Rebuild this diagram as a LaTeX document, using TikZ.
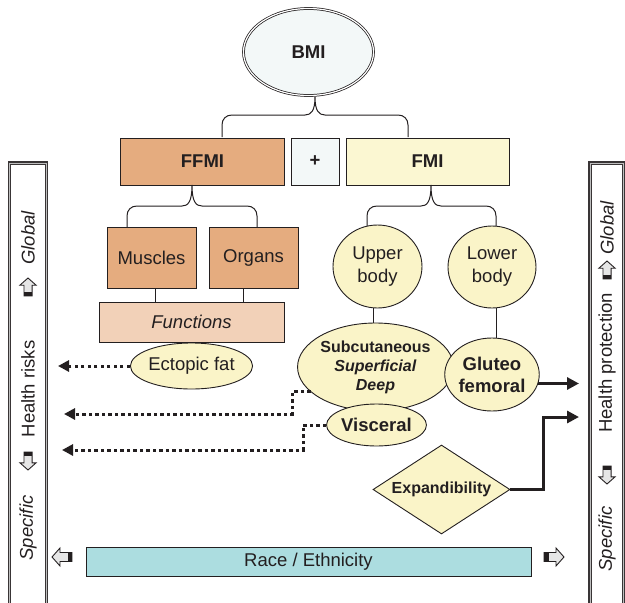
\documentclass[tikz,border=0pt]{standalone}
\usepackage{fontspec}
\setmainfont{Liberation Sans}
\usetikzlibrary{shapes.geometric,arrows.meta,calc}
\definecolor{ink}{HTML}{231F20}
\definecolor{tanfill}{HTML}{E5AC7F}
\definecolor{peach}{HTML}{F2D1B8}
\definecolor{cream}{HTML}{FAF4C8}
\definecolor{creambox}{HTML}{FBF7D2}
\definecolor{tealfill}{HTML}{ACDDE0}
\definecolor{dotfill}{HTML}{F3F8F8}
\definecolor{arrgray}{HTML}{E6E6E6}
\definecolor{bargray}{HTML}{BEBEBE}

\newcommand{\blockarr}[3]{%
  \begin{scope}[shift={#1}, rotate=#2, scale=#3]
    \fill[arrgray] (-10,-4.5) -- (2,-4.5) -- (2,-9) -- (10,0) -- (2,9) -- (2,4.5) -- (-10,4.5) -- cycle;
    \fill[ink] (-10,-4.5) rectangle (-5.5,4.5);
    \draw[ink, line width=0.9pt, line join=miter] (-10,-4.5) -- (2,-4.5) -- (2,-9) -- (10,0) -- (2,9) -- (2,4.5) -- (-10,4.5) -- cycle;
  \end{scope}}

% brace: #1 xL, #2 xM, #3 xR, #4 ytip, #5 yh, #6 ybot
\newcommand{\mybrace}[6]{%
  \draw[conn] (#1,#6) -- (#1,#5+10) .. controls (#1,#5+4) and (#1+4,#5) .. (#1+10,#5)
    -- (#2-10,#5) .. controls (#2-4,#5) and (#2,#5-4) .. (#2,#4)
    .. controls (#2,#5-4) and (#2+4,#5) .. (#2+10,#5)
    -- (#3-10,#5) .. controls (#3-4,#5) and (#3,#5+4) .. (#3,#5+10) -- (#3,#6);}

\tikzset{
  box/.style={draw=ink, line width=0.9pt, rectangle, inner sep=0pt, align=center, text=ink},
  ell/.style={draw=ink, line width=0.9pt, ellipse, inner sep=0pt, fill=cream, align=center, text=ink},
  txt/.style={font=\fontsize{18.5}{23}\selectfont},
  btxt/.style={font=\fontsize{18.5}{22}\selectfont\bfseries},
  conn/.style={draw=ink, line width=1pt},
  dotarrow/.style={draw=ink, line width=3pt, dash pattern=on 3.2pt off 3.3pt, -{Triangle[length=11pt,width=11pt]}},
  thickarrow/.style={draw=ink, line width=3pt, -{Triangle[length=12pt,width=12pt]}},
  bar/.style={draw=ink!90, double=bargray, double distance=1pt, line width=1.2pt},
  bartxt/.style={rotate=90, text=ink, font=\fontsize{18.5}{22}\selectfont},
  bartxti/.style={rotate=90, text=ink, font=\fontsize{18.5}{22}\selectfont\itshape},
}

\begin{document}
\begin{tikzpicture}[x=1pt,y=-1pt]
\useasboundingbox (0,0) rectangle (625,603);
\clip (0,0) rectangle (625,603);

% side bars
\draw[bar] (9.5,163) rectangle (46.5,612);
\draw[bar] (590,163) rectangle (623.5,612);

% top
\node[ellipse, draw=ink, double=white, double distance=1.2pt, line width=0.75pt, fill=dotfill,
      minimum width=130pt, minimum height=87pt, inner sep=0pt, btxt, text=ink] (bmi) at (308.5,52) {BMI};
\node[box, fill=tanfill, minimum width=164pt, minimum height=47pt, btxt] (ffmi) at (202.5,161.5) {FFMI};
\node[box, fill=dotfill, minimum width=48pt, minimum height=47pt, btxt] (plus) at (315,161.5) {+};
\node[box, fill=creambox, minimum width=163pt, minimum height=47pt, btxt] (fmi) at (427.5,161.5) {FMI};

\node[box, fill=tanfill, minimum width=89pt, minimum height=61pt, txt] (muscles) at (151.5,257.5) {Muscles};
\node[box, fill=tanfill, minimum width=89pt, minimum height=61pt, txt] (organs) at (253.5,257.5) {Organs};
\node[box, fill=peach, minimum width=185pt, minimum height=40pt, font=\fontsize{18.5}{23}\selectfont\itshape] (functions) at (191.5,322) {Functions};
\node[ell, minimum width=117pt, minimum height=46pt, txt] (ectopic) at (191.5,366) {Ectopic fat};

\node[ell, minimum width=89pt, minimum height=83pt, txt] (upper) at (377.5,266.5) {Upper\\body};
\node[ell, minimum width=88pt, minimum height=82pt, txt] (lower) at (492,267) {Lower\\body};

\node[ell, minimum width=145pt, minimum height=88pt, font=\fontsize{16}{19}\selectfont\bfseries] (subc) at (375.5,367)
  {Subcutaneous\\\textit{Superficial}\\\textit{Deep}};
\node[ell, minimum width=91pt, minimum height=42pt, btxt] (visceral) at (376.5,425) {Visceral};
\node[ell, minimum width=90pt, minimum height=73pt, btxt] (gluteo) at (492,374.5) {Gluteo\\femoral};

\node[diamond, draw=ink, line width=0.9pt, fill=cream, inner sep=0pt, aspect=1.54,
      minimum width=137pt, minimum height=89pt, text=ink, font=\fontsize{16}{19}\selectfont\bfseries] (expand) at (441.5,489.5) {Expandibility};

\node[box, fill=tealfill, minimum width=445pt, minimum height=29pt, txt] (race) at (308.5,561.5) {Race / Ethnicity};

% braces
\mybrace{222}{315}{408}{97}{115}{137}
\mybrace{127}{192}{257}{185}{206}{227}
\mybrace{367}{431}{496}{185}{206}{226}

% straight connectors
\draw[conn] ([xshift=3.5pt]muscles.south) -- ([xshift=3.5pt]muscles.south |- functions.north);
\draw[conn] ([xshift=-10.5pt]organs.south) -- ([xshift=-10.5pt]organs.south |- functions.north);
\draw[conn] ([xshift=-4.5pt]upper.south) -- ([xshift=-4.5pt]upper.south |- subc.north);
\draw[conn] ([xshift=4pt]lower.south) -- ([xshift=4pt]lower.south |- gluteo.north);

% thick arrows
\coordinate (gtip) at (579,383);
\coordinate (etip) at (579,417);
\coordinate (ebend) at (543,417);
\draw[thickarrow] (gluteo.-11) -- (gluteo.-11 -| gtip);
\draw[thickarrow] (expand.east) -| (ebend) -- (etip);

% dotted arrows
\coordinate (t1) at (58,366);
\coordinate (b2) at (292,414);
\coordinate (t2) at (64,414);
\coordinate (b3) at (303,450);
\coordinate (t3) at (62,450);
\draw[dotarrow] (ectopic.west) -- (ectopic.west -| t1);
\draw[dotarrow] (subc.201) -| (b2) -- (t2);
\draw[dotarrow] (visceral.west) -| (b3) -- (t3);

% left bar content
\node[bartxti] (lglobal) at (28,238) {Global};
\node[bartxt] (lrisk) at (28,389) {Health risks};
\node[bartxti] (lspec) at (28,528) {Specific};
\blockarr{(28,287)}{90}{0.9}
\blockarr{(28,461)}{-90}{0.9}

% right bar content
\node[bartxti] (rglobal) at (607,228) {Global};
\node[bartxt] (rprot) at (607,363) {Health protection};
\node[bartxti] (rspec) at (607,539) {Specific};
\blockarr{(607,270)}{90}{0.9}
\blockarr{(607,475)}{-90}{0.9}

% race arrows
\blockarr{(62,557)}{180}{1}
\blockarr{(554,557)}{0}{1}
\end{tikzpicture}
\end{document}
